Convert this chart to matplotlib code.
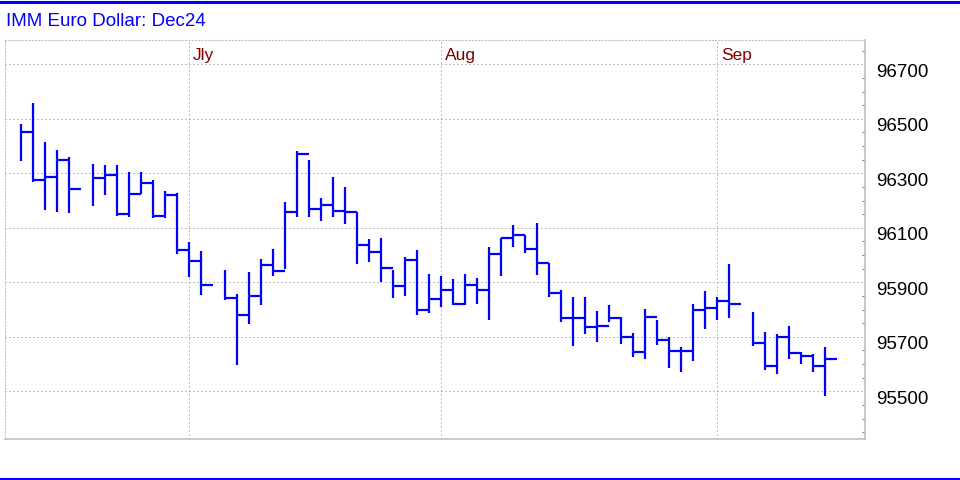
import numpy as np
import matplotlib
matplotlib.use("Agg")
import matplotlib.pyplot as plt
from matplotlib.transforms import ScaledTranslation
from matplotlib.lines import Line2D

plt.rcParams['font.family'] = ['Liberation Sans', 'DejaVu Sans']

# Daily bars (None = no session, e.g. holiday)
highs = [96482, 96558, 96413, 96384, 96358, None, 96333, 96329, 96329, 96304,
         96304, 96275, 96235, 96229, 96049, 96016, None, 95945, 95858, 95938,
         95984, 96021, 96196, 96380, 96347, 96209, 96285, 96249, 96158, 96058,
         96061, 95945, 95992, 96018, 95930, 95922, 95911, 95929, 95915, 96031,
         96062, 96112, 96075, 96119, 95972, 95871, 95847, 95847, 95796, 95818,
         95774, 95715, 95803, 95763, 95700, 95661, 95821, 95868, 95845, 95967,
         None, 95792, 95716, 95709, 95738, 95645, 95638, 95661]
lows = [96346, 96267, 96164, 96157, 96153, None, 96179, 96222, 96142, 96139,
        96225, 96136, 96136, 96002, 95921, 95855, None, 95835, 95597, 95747,
        95815, 95924, 95950, 96140, 96140, 96124, 96140, 96115, 95968, 95975,
        95902, 95844, 95848, 95780, 95787, 95808, 95818, 95816, 95819, 95761,
        95924, 96030, 96009, 95928, 95845, 95753, 95666, 95710, 95681, 95755,
        95675, 95626, 95619, 95670, 95586, 95572, 95612, 95730, 95761, 95770,
        None, 95667, 95579, 95564, 95619, 95601, 95572, 95481]
closes = [96452, 96276, 96287, 96350, 96241, None, 96281, 96295, 96152, 96225,
          96266, 96145, 96222, 96018, 95979, 95890, None, 95844, 95779, 95848,
          95964, 95942, 96157, 96372, 96168, 96182, 96162, 96158, 96037, 96012,
          95953, 95885, 95982, 95797, 95837, 95873, 95820, 95890, 95873, 96004,
          96061, 96075, 96022, 95972, 95859, 95769, 95769, 95736, 95739, 95769,
          95699, 95644, 95774, 95688, 95648, 95648, 95797, 95807, 95833, 95819,
          None, 95676, 95593, 95699, 95641, 95630, 95593, 95619]

month_starts = [14, 35, 58]
month_names = ["Jly", "Aug", "Sep"]
y_ticks = [95500, 95700, 95900, 96100, 96300, 96500, 96700]
title = "IMM Euro Dollar: Dec24"

BLUE = "#0000ff"
GRID = "#808080"
FRAME = "#c0c0c0"

fig = plt.figure(figsize=(9.6, 4.8), dpi=100)
ax = fig.add_axes([5 / 960, 41 / 480, 860 / 960, 399 / 480])

h = np.array([np.nan if v is None else v for v in highs], dtype=float)
l = np.array([np.nan if v is None else v for v in lows], dtype=float)
c = np.array([np.nan if v is None else v for v in closes], dtype=float)
x = np.arange(len(c))
ok = ~np.isnan(c)

ax.vlines(x[ok], l[ok], h[ok], color=BLUE, lw=1.6, capstyle='butt')
ax.hlines(c[ok], x[ok], x[ok] + 1, color=BLUE, lw=1.6, capstyle='butt')

ax.set_xlim(-1.33, 70.33)
ax.set_ylim(95325, 96789)

# grid
for yv in y_ticks:
    ax.axhline(yv, xmax=0.996, color=GRID, lw=0.72, linestyle=(0, (1, 3)),
               zorder=0)
for m in month_starts:
    ax.axvline(m, color=GRID, lw=0.72, linestyle=(0, (1, 3)), zorder=0)

# month labels
off = ScaledTranslation(4 / 100, -8 / 100, fig.dpi_scale_trans)
for m, name in zip(month_starts, month_names):
    ax.text(m, 1.0, name, transform=ax.get_xaxis_transform() + off,
            color="#800000", fontsize=12.5, ha='left', va='top')

ax.set_xticks([])
ax.yaxis.tick_right()
ax.set_yticks(y_ticks)
ax.set_yticklabels([str(v) for v in y_ticks])
ax.set_yticks(np.arange(95350, 96790, 50), minor=True)
ax.tick_params(axis='y', which='major', length=0, pad=8, labelsize=13.5)
ax.tick_params(axis='y', which='minor', direction='in', length=2.5,
               color=GRID, width=0.8)
shift = ScaledTranslation(0, -6 / 100, fig.dpi_scale_trans)
for lab in ax.get_yticklabels():
    lab.set_transform(lab.get_transform() + shift)

for side in ['left', 'top']:
    ax.spines[side].set_color(FRAME)
    ax.spines[side].set_linestyle((0, (1, 2)))
    ax.spines[side].set_linewidth(0.8)
for side in ['right', 'bottom']:
    ax.spines[side].set_color(FRAME)
    ax.spines[side].set_linewidth(1.2)

fig.text(6 / 960, 1 - 22 / 480, title, color=BLUE, fontsize=13.5,
         ha='left', va='center')

# blue bands at top and bottom
fig.add_artist(Line2D([0, 1], [1 - 1.5 / 480, 1 - 1.5 / 480], color=BLUE,
                      lw=2.2, transform=fig.transFigure))
fig.add_artist(Line2D([0, 1], [1.5 / 480, 1.5 / 480], color=BLUE,
                      lw=2.2, transform=fig.transFigure))

fig.savefig("out.png", dpi=100)
